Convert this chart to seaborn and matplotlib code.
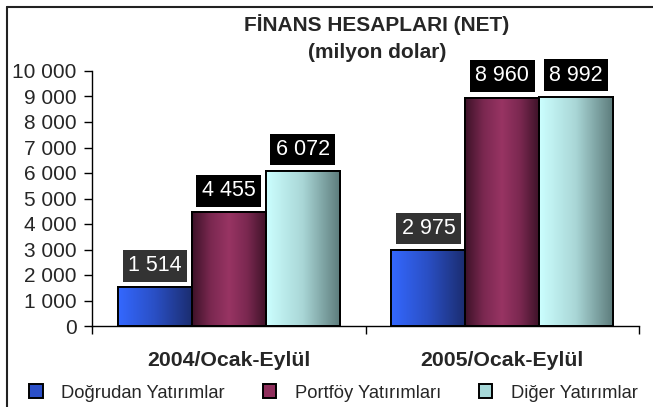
import numpy as np
import pandas as pd
import matplotlib
matplotlib.use("Agg")
import matplotlib.pyplot as plt
from matplotlib.colors import LinearSegmentedColormap
from matplotlib.patches import Patch, Rectangle
from matplotlib.lines import Line2D
from matplotlib.ticker import FuncFormatter, MultipleLocator
import seaborn as sns

# data
periods = ["2004/Ocak-Eylül", "2005/Ocak-Eylül"]
series = ["Doğrudan Yatırımlar", "Portföy Yatırımları", "Diğer Yatırımlar"]
dogrudan = [1514, 2975]
portfoy = [4455, 8960]
diger = [6072, 8992]

title_lines = ["FİNANS HESAPLARI (NET)", "(milyon dolar)"]
y_max = 10000
y_step = 1000

# gradient colours (left -> right) per series
gradients = [
    ["#3468ff", "#2a4fc4", "#1b2d70"],
    ["#3d1228", "#7a2850", "#983463", "#7a2850", "#3f1329"],
    ["#ccffff", "#a9d6d6", "#5d7c7c"],
]
legend_colors = ["#2b4fc8", "#8f2f5c", "#a6d8d8"]
label_box_colors = ["#333333", "#000000", "#000000"]

df = pd.DataFrame({
    "period": periods * 3,
    "series": np.repeat(series, len(periods)),
    "value": dogrudan + portfoy + diger,
})

sns.set_style("white")
plt.rcParams["font.family"] = ["Liberation Sans", "DejaVu Sans"]

fig = plt.figure(figsize=(6.53, 4.07), dpi=100)
ax = fig.add_axes([92 / 653, 1 - 326 / 407, (639 - 92) / 653, (326 - 71) / 407])

sns.barplot(data=df, x="period", y="value", hue="series", order=periods,
            hue_order=series, palette=legend_colors, width=0.81, gap=0,
            legend=False, ax=ax, edgecolor="black", linewidth=1.4)

fmt = lambda v: f"{v:,.0f}".replace(",", " ")

# gradient fill + value labels
for i, cont in enumerate(ax.containers):
    cmap = LinearSegmentedColormap.from_list(f"g{i}", gradients[i])
    grad = np.linspace(0, 1, 256).reshape(1, -1)
    for bar in cont:
        x0, y0 = bar.get_x(), bar.get_y()
        w, h = bar.get_width(), bar.get_height()
        ax.imshow(grad, cmap=cmap, extent=[x0, x0 + w, y0, y0 + h],
                  aspect="auto", zorder=bar.get_zorder() + 0.1,
                  interpolation="bilinear")
        ax.add_patch(Rectangle((x0, y0), w, h, fill=False, edgecolor="black",
                               linewidth=1.4, zorder=bar.get_zorder() + 0.2))
    ax.bar_label(cont, labels=[fmt(b.get_height()) for b in cont], padding=8,
                 color="white", fontsize=15.5,
                 bbox=dict(boxstyle="square,pad=0.25", fc=label_box_colors[i], ec="none"))

ax.set_xlim(-0.5, 1.5)
ax.set_ylim(0, y_max)
ax.yaxis.set_major_locator(MultipleLocator(y_step))
ax.yaxis.set_major_formatter(FuncFormatter(lambda v, p: fmt(v)))
ax.tick_params(axis="y", which="major", direction="out", length=6, width=1,
               color="black", labelsize=15, pad=5, left=True)

ax.set_xticks([-0.5, 0.5, 1.5])
ax.set_xticklabels([])
ax.set_xticks([0, 1], labels=periods, minor=True)
ax.tick_params(axis="x", which="major", direction="out", length=6, width=1,
               color="black", bottom=True)
ax.tick_params(axis="x", which="minor", length=0, labelsize=15.3, pad=18)
for lbl in ax.get_xticklabels(minor=True):
    lbl.set_fontweight("bold")

ax.set_xlabel("")
ax.set_ylabel("")
for side in ["top", "right"]:
    ax.spines[side].set_visible(False)
for side in ["left", "bottom"]:
    ax.spines[side].set_color("black")
    ax.spines[side].set_linewidth(1)

# titles
fig.text(377 / 653, 1 - 25 / 407, title_lines[0], ha="center", va="center",
         fontsize=15, fontweight="bold")
fig.text(377 / 653, 1 - 52 / 407, title_lines[1], ha="center", va="center",
         fontsize=15, fontweight="bold")

# legend
handles = [Patch(facecolor=c, edgecolor="black", linewidth=1.4) for c in legend_colors]
fig.legend(handles, series, loc="center left", bbox_to_anchor=(22 / 653, 1 - 393 / 407),
           ncol=3, frameon=False, fontsize=13.2, handlelength=0.75, handleheight=0.75,
           handletextpad=1.0, columnspacing=2.05, borderaxespad=0)

# chart area border (left and top edges visible)
fig.add_artist(Line2D([7 / 653, 7 / 653], [0, 1 - 7 / 407], color="#222222", lw=1.5))
fig.add_artist(Line2D([7 / 653, 1], [1 - 7 / 407, 1 - 7 / 407], color="#222222", lw=1.5))

fig.savefig("out.png", dpi=100)
